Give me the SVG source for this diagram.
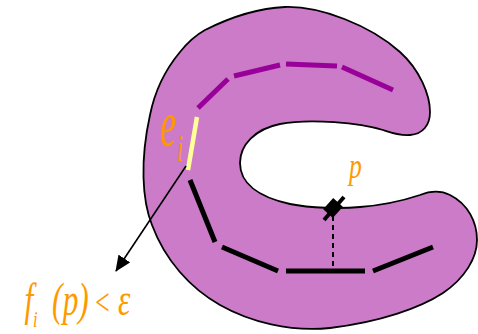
<svg xmlns="http://www.w3.org/2000/svg" width="478" height="334" viewBox="0 0 478 334">
<defs>
<style>
.lbl{font-family:"Liberation Serif","Times New Roman",serif;font-style:italic;fill:#ff9900}
.pur{stroke:#990099;stroke-width:5;fill:none}
.blk{stroke:#000;stroke-width:5;fill:none}
</style>
<marker id="ah" markerWidth="16" markerHeight="14" refX="15" refY="7" orient="auto" markerUnits="userSpaceOnUse">
<path d="M0,0 L16,7 L0,14 Z" fill="#000"/>
</marker>
</defs>
<rect width="478" height="334" fill="#fff"/>
<g id="shape">
<path d="M205,30 C235,15 260,8 285,7 C320,6 370,25 400,52 C420,70 430,95 430,112 C430,125 423,134 410,135 C400,136 392,133 383,130 C360,123 310,118 280,124 C255,129 240,145 240,163 C240,183 258,197 290,204 C310,208 340,209 360,207 C385,205 405,200 420,195 C430,191 440,190 450,195 C468,204 477,222 477,240 C477,258 465,278 443,293 C420,308 380,322 330,328 C290,332 250,322 220,305 C190,288 165,260 152,225 C142,200 140,160 150,115 C155,90 165,70 180,52 C188,42 196,35 205,30 Z" fill="#cb7bc7" stroke="#000" stroke-width="1.8"/>
</g>
<g id="purple-path">
<line class="pur" x1="198" y1="108" x2="228" y2="79"/>
<line class="pur" x1="234" y1="76" x2="280" y2="65"/>
<line class="pur" x1="286" y1="64" x2="337" y2="66"/>
<line class="pur" x1="342" y1="67" x2="393" y2="90"/>
</g>
<g id="edge-ei">
<line x1="197" y1="117" x2="188" y2="170" stroke="#ffff99" stroke-width="4.5"/>
</g>
<g id="black-path">
<line class="blk" x1="190" y1="180" x2="215" y2="242"/>
<line class="blk" x1="222" y1="247" x2="278" y2="271"/>
<line class="blk" x1="286" y1="271" x2="365" y2="271"/>
<line class="blk" x1="373" y1="271" x2="433" y2="247"/>
</g>
<g id="point-p">
<line x1="324" y1="220" x2="344" y2="197" stroke="#000" stroke-width="4"/>
<rect x="-7.5" y="-6.5" width="15" height="13" fill="#000" transform="translate(333,208) rotate(-48)"/>
</g>
<g id="connectors">
<line x1="333" y1="216" x2="333" y2="268" stroke="#000" stroke-width="2" stroke-dasharray="5,4"/>
<line x1="186" y1="166" x2="116" y2="271" stroke="#000" stroke-width="1.6" marker-end="url(#ah)"/>
</g>
<g id="labels">
<text class="lbl" transform="translate(160,146) scale(0.55,1)" font-size="66">e<tspan font-size="37" dx="2" dy="15">i</tspan></text>
<text class="lbl" transform="translate(349,178) scale(0.73,1)" font-size="35">p</text>
<text class="lbl" transform="scale(0.68,1)" font-size="46"><tspan x="36" y="315">f</tspan><tspan x="48.5" y="327" font-size="24">i</tspan> <tspan x="76.5 92.4 115" y="315">(p)</tspan><tspan x="137.4" y="315" font-size="38">&lt;</tspan> <tspan x="173.4" y="315">ε</tspan></text>
</g>
</svg>
